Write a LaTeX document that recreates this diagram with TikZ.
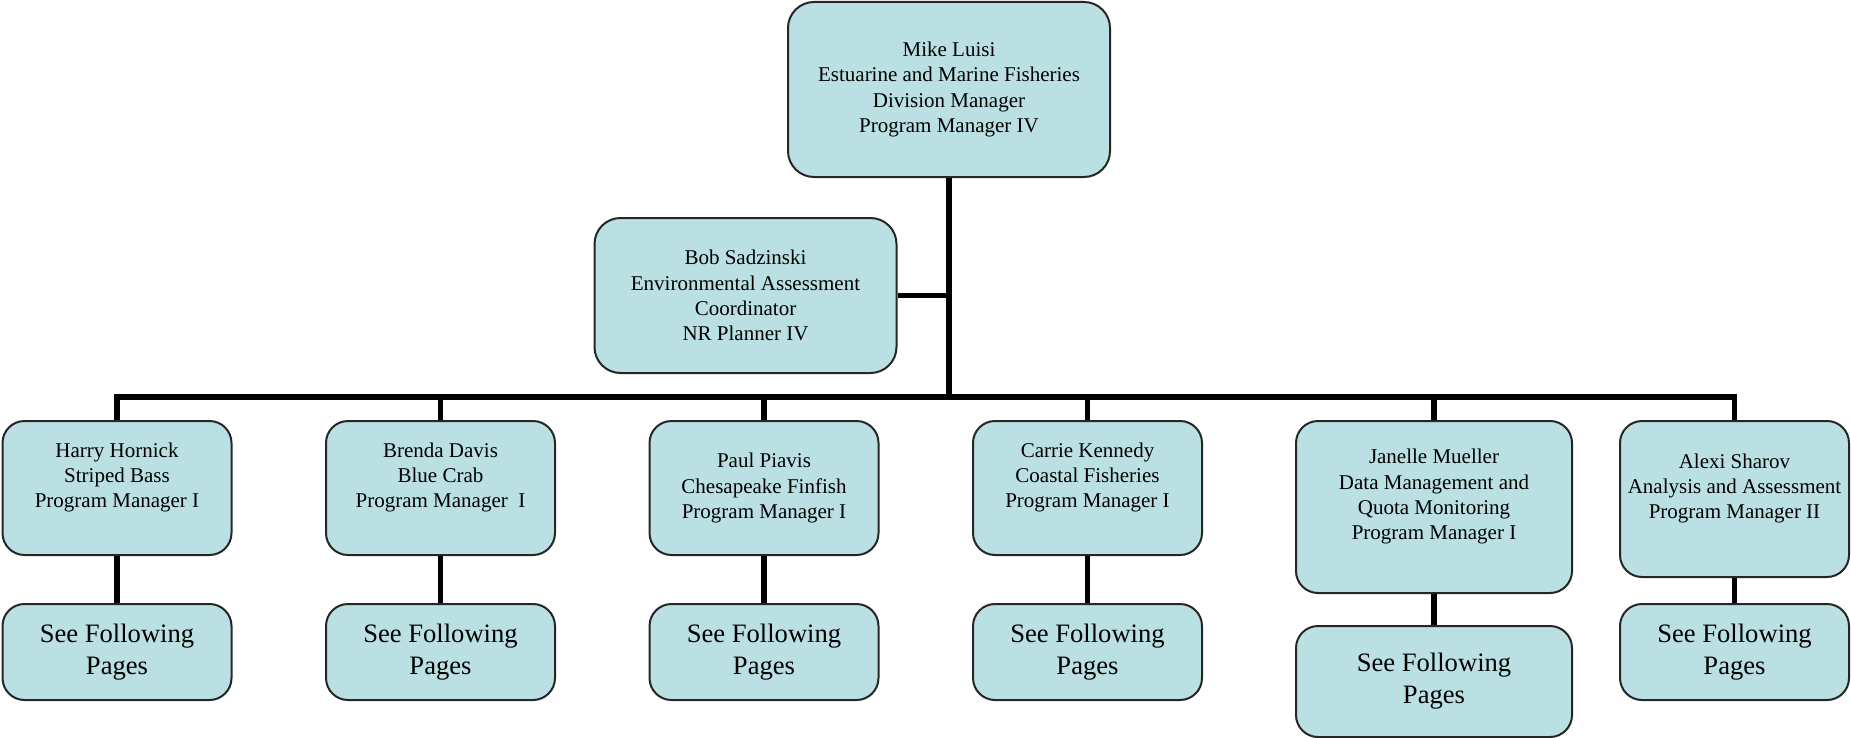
\documentclass[tikz,border=0pt]{standalone}
\usepackage{fontspec}
\setmainfont{Liberation Serif}
\usetikzlibrary{positioning}
\definecolor{boxfill}{RGB}{186,224,228}

\begin{document}
\begin{tikzpicture}[x=0.5pt,y=-0.5pt,
    person/.style={draw=black!85, line width=1pt, fill=boxfill, rounded corners=11pt,
        align=center, inner sep=0pt, minimum width=114.5pt, minimum height=67pt,
        font=\fontsize{10.5}{12.6}\selectfont},
    seebox/.style={person, minimum height=48pt, font=\fontsize{13.3}{16}\selectfont},
    conn/.style={line width=2.8pt}]
\useasboundingbox (0,0) rectangle (1851,738);

% top of the division
\node[person, minimum width=161pt, minimum height=87.5pt, rounded corners=13pt] (luisi) at (949,89.5)
    {Mike Luisi\\Estuarine and Marine Fisheries\\Division Manager\\Program Manager IV};
\node[person, minimum width=151pt, minimum height=77.5pt, rounded corners=13pt] (sadzinski) at (745.5,295.5)
    {Bob Sadzinski\\Environmental Assessment\\Coordinator\\NR Planner IV};
\coordinate (hub) at (949,397);

% program managers
\node[person] (hornick) at (117,488) {Harry Hornick\\Striped Bass\\Program Manager I\\\mbox{}};
\node[person] (davis) at (440.5,488) {Brenda Davis\\Blue Crab\\Program Manager\ \ I\\\mbox{}};
\node[person] (piavis) at (764,488) {Paul Piavis\\Chesapeake Finfish\\Program Manager I};
\node[person] (kennedy) at (1087.5,488) {Carrie Kennedy\\Coastal Fisheries\\Program Manager I\\\mbox{}};
\node[person, minimum width=138pt, minimum height=86pt] (mueller) at (1434,507)
    {Janelle Mueller\\Data Management and\\Quota Monitoring\\Program Manager I\\\mbox{}};
\node[person, minimum height=78pt] (sharov) at (1734.5,499)
    {Alexi Sharov\\Analysis and Assessment\\Program Manager II\\\mbox{}};

% see following pages
\foreach \n/\x in {hornick/117, davis/440.5, piavis/764, kennedy/1087.5, sharov/1734.5}
    \node[seebox] (\n-see) at (\x,652) {See Following\\Pages};
\node[seebox, minimum width=138pt, minimum height=55.5pt] (mueller-see) at (1434,681.5) {See Following\\Pages};

% lines
\draw[conn] (luisi.south) -- (hub);
\draw[conn] (sadzinski.east) -- (sadzinski.east -| hub);
\draw[conn] (hornick.north) |- (hub) -| (sharov.north);
\foreach \n in {davis, piavis, kennedy, mueller}
    \draw[conn] (\n.north) -- (\n.north |- hub);
\foreach \n in {hornick, davis, piavis, kennedy, mueller, sharov}
    \draw[conn] (\n.south) -- (\n-see.north);
\end{tikzpicture}
\end{document}
